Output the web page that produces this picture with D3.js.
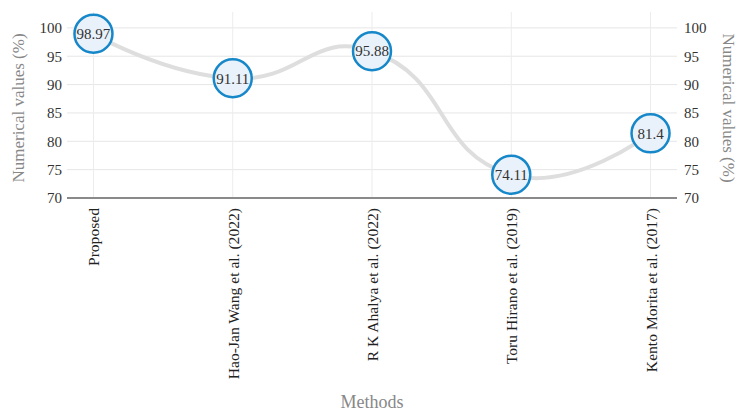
<!DOCTYPE html>
<html>
<head>
<meta charset="utf-8">
<script src="https://cdn.jsdelivr.net/npm/d3@7"></script>
<style>
  body { margin: 0; background: #fff; }
  svg { display: block; font-family: "Liberation Serif", "DejaVu Serif", serif; }
</style>
</head>
<body>
<svg id="chart" width="748" height="416"></svg>
<script>
const methods = [
  "Proposed",
  "Hao-Jan Wang et al. (2022)",
  "R K Ahalya et al. (2022)",
  "Toru Hirano et al. (2019)",
  "Kento Morita et al. (2017)"
];
const values = [98.97, 91.11, 95.88, 74.11, 81.4];
const yTicks = [70, 75, 80, 85, 90, 95, 100];

const width = 748, height = 416;
const margin = { top: 12, right: 71, bottom: 218, left: 67 };
const innerW = width - margin.left - margin.right;
const innerH = height - margin.top - margin.bottom;
const serif = "Liberation Serif";

const svg = d3.select("#chart");
const g = svg.append("g").attr("transform", `translate(${margin.left},${margin.top})`);

const x = d3.scalePoint().domain(methods).range([0, innerW]).padding(0.19);
const y = d3.scaleLinear().domain([70, 102.8]).range([innerH, 0]);

// horizontal grid
g.selectAll(".hgrid")
  .data(yTicks)
  .join("line")
  .attr("x1", 0).attr("x2", innerW)
  .attr("y1", d => y(d)).attr("y2", d => y(d))
  .attr("stroke", "#e6e6e6").attr("stroke-width", 1);

// vertical grid
g.selectAll(".vgrid")
  .data(methods)
  .join("line")
  .attr("x1", d => x(d)).attr("x2", d => x(d))
  .attr("y1", 0).attr("y2", innerH)
  .attr("stroke", "#ececec").attr("stroke-width", 1);

// left axis
const left = g.append("g").call(d3.axisLeft(y).tickValues(yTicks).tickSize(0).tickPadding(5));
left.select(".domain").remove();
left.selectAll("text").attr("font-size", 15).attr("fill", "#333").style("font-family", serif);

// right axis
const right = g.append("g").attr("transform", `translate(${innerW},0)`)
  .call(d3.axisRight(y).tickValues(yTicks).tickSize(0).tickPadding(7));
right.select(".domain").remove();
right.selectAll("text").attr("font-size", 15).attr("fill", "#333").style("font-family", serif);

// baseline
g.append("line")
  .attr("x1", 0).attr("x2", innerW)
  .attr("y1", y(70)).attr("y2", y(70))
  .attr("stroke", "#8a8a8a").attr("stroke-width", 2);

// x axis labels
const bottom = g.append("g").attr("transform", `translate(0,${innerH})`)
  .call(d3.axisBottom(x).tickSize(0).tickPadding(0));
bottom.select(".domain").remove();
bottom.selectAll("text")
  .attr("font-size", 15.6).attr("fill", "#222").style("font-family", serif)
  .attr("text-anchor", "end")
  .attr("transform", "rotate(-90)")
  .attr("dx", -10).attr("dy", "0.35em")
  .attr("y", 0);

// smooth line (control points like a 0.5 smoothed polyline)
const pts = values.map((v, i) => [x(methods[i]), y(v)]);
function smoothPath(p, smooth) {
  const path = d3.path();
  path.moveTo(p[0][0], p[0][1]);
  let cp0 = p[0].slice();
  for (let i = 1; i < p.length; i++) {
    const cur = p[i], prev = p[i - 1], next = p[i + 1];
    let cp1, ratio = 0.5, v = [0, 0];
    if (!next) {
      cp1 = cur.slice();
    } else {
      v = [next[0] - prev[0], next[1] - prev[1]];
      const l0 = Math.hypot(cur[0] - prev[0], cur[1] - prev[1]);
      const l1 = Math.hypot(next[0] - cur[0], next[1] - cur[1]);
      ratio = l1 / (l0 + l1);
      cp1 = [cur[0] - v[0] * smooth * (1 - ratio), cur[1] - v[1] * smooth * (1 - ratio)];
    }
    path.bezierCurveTo(cp0[0], cp0[1], cp1[0], cp1[1], cur[0], cur[1]);
    cp0 = [cur[0] + v[0] * smooth * ratio, cur[1] + v[1] * smooth * ratio];
  }
  return path.toString();
}
g.append("path")
  .attr("d", smoothPath(pts, 0.5))
  .attr("fill", "none")
  .attr("stroke", "#dedede")
  .attr("stroke-width", 4);

// points
const marks = g.selectAll(".pt")
  .data(values)
  .join("g")
  .attr("transform", (d, i) => `translate(${x(methods[i])},${y(d)})`);
marks.append("circle")
  .attr("r", 19)
  .attr("fill", "#e9f1fa")
  .attr("stroke", "#1687c8")
  .attr("stroke-width", 2.5);
marks.append("text")
  .attr("text-anchor", "middle")
  .attr("dy", "0.35em")
  .attr("font-size", 15)
  .attr("fill", "#333")
  .text(d => d);

// axis titles
svg.append("text")
  .attr("transform", `translate(24,108) rotate(-90)`)
  .attr("text-anchor", "middle")
  .attr("font-size", 17).attr("fill", "#888")
  .text("Numerical values (%)");
svg.append("text")
  .attr("transform", `translate(723,108) rotate(90)`)
  .attr("text-anchor", "middle")
  .attr("font-size", 17).attr("fill", "#888")
  .text("Numerical values (%)");
svg.append("text")
  .attr("x", margin.left + innerW / 2)
  .attr("y", 408)
  .attr("text-anchor", "middle")
  .attr("font-size", 18).attr("fill", "#888")
  .text("Methods");
</script>
</body>
</html>
